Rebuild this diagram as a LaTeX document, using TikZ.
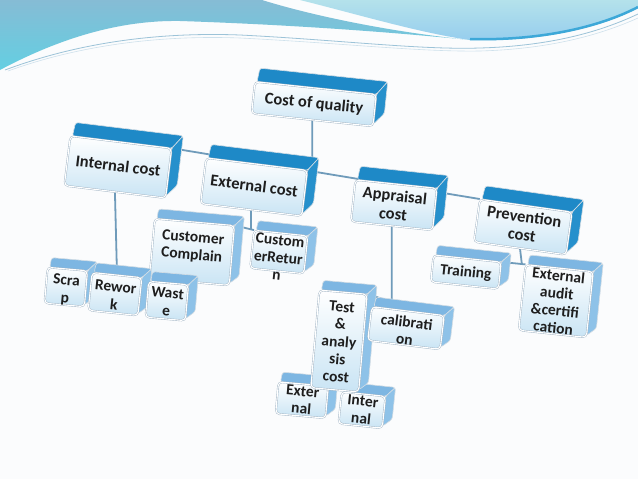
\documentclass[tikz,border=0pt]{standalone}
\usepackage{fontspec}
\setmainfont{Carlito}
\usetikzlibrary{calc,intersections}
\pgfdeclarelayer{bg}\pgfdeclarelayer{conn}
\pgfsetlayers{bg,conn,main}
\definecolor{bgwhite}{HTML}{FBFCFD}
\definecolor{wtopL}{HTML}{86BCD5}
\definecolor{wbotL}{HTML}{63CFE2}
\definecolor{wtopR}{HTML}{B4E2EB}
\definecolor{wbotR}{HTML}{95CDEE}
\definecolor{stripe}{HTML}{3DA8D8}
\definecolor{thinln}{HTML}{9CC3D8}
\definecolor{dtop}{HTML}{1E89C7}
\definecolor{dside}{HTML}{2690CC}
\definecolor{ltop}{HTML}{7DB6E2}
\definecolor{lside}{HTML}{8EC2E8}
\definecolor{facebot}{HTML}{C9E4F4}
\definecolor{rimgray}{HTML}{9FB3C3}
\definecolor{lineblue}{HTML}{6F9BBA}
\definecolor{txt}{HTML}{1E1E1E}
\newcommand\qtext[2]{\raisebox{#1}[0pt][0pt]{\begin{tabular}{@{}c@{}}#2\end{tabular}}}
\tikzset{
  upperdepth/.code={\def\qdx{10}\def\qdy{14}\colorlet{qtop}{dtop}\colorlet{qside}{dside}},
  lowerdepth/.code={\def\qdx{9}\def\qdy{10}\colorlet{qtop}{ltop}\colorlet{qside}{lside}},
  upper/.style={upperdepth, qfont/.style={font=\fontsize{16.5}{18.5}\selectfont\bfseries}},
  lower/.style={lowerdepth, qfont/.style={font=\fontsize{15.5}{17.5}\selectfont\bfseries}},
  qfont/.style={},
  facetop/.style={fill=qtop, draw=white!55!rimgray, line width=0.6pt, rounded corners=2.5pt},
  faceside/.style={fill=qside, draw=white!55!rimgray, line width=0.6pt, rounded corners=2.5pt},
  qbox/.style={draw=rimgray, double=white, double distance=1.1pt, line width=0.4pt,
    rounded corners=4pt, top color=white, bottom color=facebot, inner sep=0pt,
    transform shape, text=txt, qfont},
  conn/.style={draw=lineblue, line width=1.8pt},
}
% name, x, y, w, h, rotation, kind, lift, text
\newcommand\qcube[9]{%
\begin{scope}[shift={(#2,#3)},rotate=#6,#7]
  \path[facetop] (-#4/2+2,-#5/2) -- (-#4/2+\qdx*0.35,-#5/2-\qdy) -- (#4/2+\qdx,-#5/2-\qdy) -- (#4/2,-#5/2) -- cycle;
  \path[faceside] (#4/2,-#5/2) -- (#4/2+\qdx,-#5/2-\qdy) -- (#4/2+\qdx,#5/2-\qdy) -- (#4/2,#5/2-2) -- cycle;
  \node[qbox,minimum width=#4,minimum height=#5] (#1) at (0,0) {\qtext{#8}{#9}};
\end{scope}}
\begin{document}
\begin{tikzpicture}[x=1pt,y=-1pt]
\useasboundingbox (0,0) rectangle (638,479);
\begin{pgfonlayer}{bg}
  \fill[bgwhite] (0,0) rectangle (638,479);
  \shade[top color=wtopR, bottom color=wbotR] (300,0) .. controls (360,15) and (420,33) .. (470,40) .. controls (540,42) and (600,28) .. (638,8) -- (638,0) -- cycle;
  \shade[top color=wtopL, bottom color=wbotL] (0,0) -- (262,0) .. controls (320,18) and (400,33) .. (470,40) .. controls (400,33) and (300,25) .. (180,21) .. controls (120,20) and (60,38) .. (0,70) -- cycle;
  \draw[stripe, line width=2.5pt] (470,39) .. controls (540,41) and (600,27) .. (638,7);
  \draw[thinln, line width=0.8pt] (5,70) .. controls (80,42) and (160,32) .. (240,35) .. controls (340,40) and (420,50) .. (480,48) .. controls (550,46) and (600,32) .. (638,14);
  \draw[thinln!50, line width=0.6pt] (8,71) .. controls (80,45) and (160,35) .. (240,38) .. controls (340,43) and (420,52) .. (480,51) .. controls (550,49) and (600,35) .. (638,18);
\end{pgfonlayer}

\qcube{coq}{314}{104}{122}{32}{-6}{upper}{-5pt}{Cost of quality}
\qcube{ic}{118}{167}{102}{50}{-7}{upper}{-5pt}{Internal cost}
\qcube{cc}{192}{252}{80}{60}{-5}{lower}{1pt}{Customer\\Complain}
\qcube{ec}{254}{187}{102}{46}{-7}{upper}{-5pt}{External cost}
\qcube{cr}{279}{252}{54}{38}{-6}{lower}{-11pt}{Custom\\erRetur\\n}
\qcube{scrap}{66}{287}{40}{36}{-5}{lower}{-7pt}{Scra\\p}
\qcube{rw}{115}{294}{50}{38}{-6}{lower}{-7pt}{Rewor\\k}
\qcube{waste}{167}{301}{40}{36}{-5}{lower}{-6pt}{Wast\\e}
\qcube{tr}{466}{272}{68}{27}{-6}{lower}{-5pt}{Training}
\qcube{pc}{523}{227}{93}{43}{-8}{upper}{-5pt}{Prevention\\cost}
\qcube{ac}{394}{205}{82}{42}{-6}{upper}{-6pt}{Appraisal\\cost}
\qcube{ea}{556}{301}{68}{66}{-6}{lower}{-6pt}{External\\audit\\\&certifi\\cation}
\qcube{ext}{302}{400}{50}{32}{-5}{lower}{-5pt}{Exter\\nal}
\qcube{int}{362}{410}{44}{32}{-6}{lower}{-5pt}{Inter\\nal}
\qcube{test}{339}{341}{48}{98}{-5}{lower}{-6pt}{Test\\\&\\analy\\sis\\cost}
\qcube{cal}{406}{328}{73}{34}{-7}{lower}{-8pt}{calibrati\\on}

\begin{pgfonlayer}{conn}
  \path[name path=trunk] (ic.north east) -- (pc.north west);
  \path[name path=vl] (coq.south) -- ++(0,120);
  \path[name intersections={of=trunk and vl,by=j0}];
  \draw[conn] (ic.north east) -- (pc.north west);
  \draw[conn] (coq.south) -- (j0);
  \draw[conn] (ic.south) -- (rw.north);
  \coordinate (j1) at (ec.south |- cr.north west);
  \draw[conn] (ec.south) -- (j1);
  \draw[conn] (cc.north east) -- (cr.north west);
  \coordinate (j2) at ($(ac.south |- cal.north)+(0,-9)$);
  \draw[conn] (ac.south) -- (j2) -- (test.north east);
  \coordinate (j3) at ($(tr.north east)!0.85!(ea.north west)$);
  \draw[conn] (pc.south) -- (j3);
  \draw[conn] (tr.north east) -- (ea.north west);
\end{pgfonlayer}
\end{tikzpicture}
\end{document}
